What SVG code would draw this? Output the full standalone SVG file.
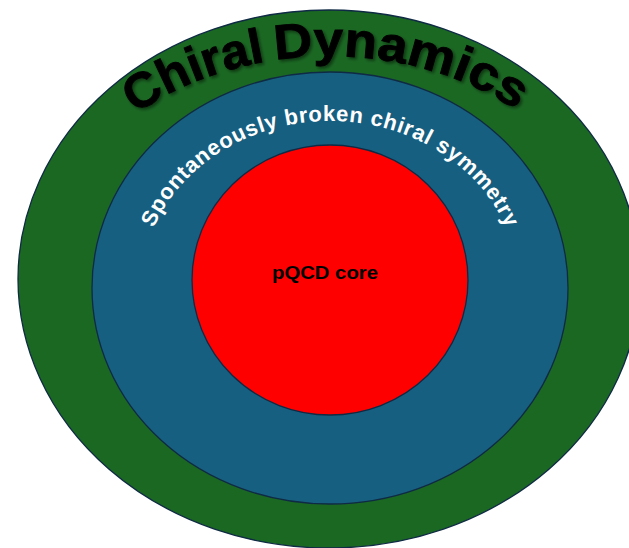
<svg xmlns="http://www.w3.org/2000/svg" width="629" height="548" viewBox="0 0 629 548">
  <style>
    .ring { stroke: #0f2a44; stroke-width: 1.3; }
    .outer { fill: #1b6823; }
    .middle { fill: #175f81; }
    .inner { fill: #ff0000; }
    .title { font-family: "Liberation Sans", Arial, sans-serif; font-weight: bold; font-size: 49px; fill: #000; stroke: #000; stroke-width: 0.9; }
    .arc-label { font-family: "Liberation Sans", Arial, sans-serif; font-weight: bold; font-size: 22px; fill: #fff; }
    .core-label { font-family: "Liberation Sans", Arial, sans-serif; font-weight: bold; font-size: 18.5px; fill: #000; }
  </style>
  <defs>
    <!-- baselines for the curved labels -->
    <path id="titleArc" d="M 42,279 A 287 223 0 0 1 616,279" fill="none"/>
    <path id="ringArc" d="M 141,288 A 189 167 0 0 1 519,288" fill="none"/>
    <filter id="softShadow" x="-10%" y="-20%" width="120%" height="140%">
      <feDropShadow dx="2" dy="2" stdDeviation="1.4" flood-color="#000" flood-opacity="0.45"/>
    </filter>
  </defs>

  <rect width="629" height="548" fill="#fff"/>

  <g id="chiral-dynamics">
    <ellipse class="ring outer" cx="329" cy="279" rx="311" ry="269"/>
    <text class="title" filter="url(#softShadow)">
      <textPath href="#titleArc" startOffset="197" textLength="141" lengthAdjust="spacingAndGlyphs">Chiral</textPath>
      <textPath href="#titleArc" startOffset="348" textLength="252" lengthAdjust="spacingAndGlyphs">Dynamics</textPath>
    </text>
  </g>

  <g id="broken-symmetry">
    <ellipse class="ring middle" cx="330" cy="288" rx="238" ry="216"/>
    <text class="arc-label">
      <textPath href="#ringArc" startOffset="50%" text-anchor="middle" textLength="436" lengthAdjust="spacing">Spontaneously broken chiral symmetry</textPath>
    </text>
  </g>

  <g id="pqcd-core">
    <ellipse class="ring inner" cx="330" cy="280" rx="138" ry="135"/>
    <text class="core-label" x="325" y="279" text-anchor="middle" textLength="106" lengthAdjust="spacingAndGlyphs">pQCD core</text>
  </g>

  <g id="connectors"/>
</svg>
